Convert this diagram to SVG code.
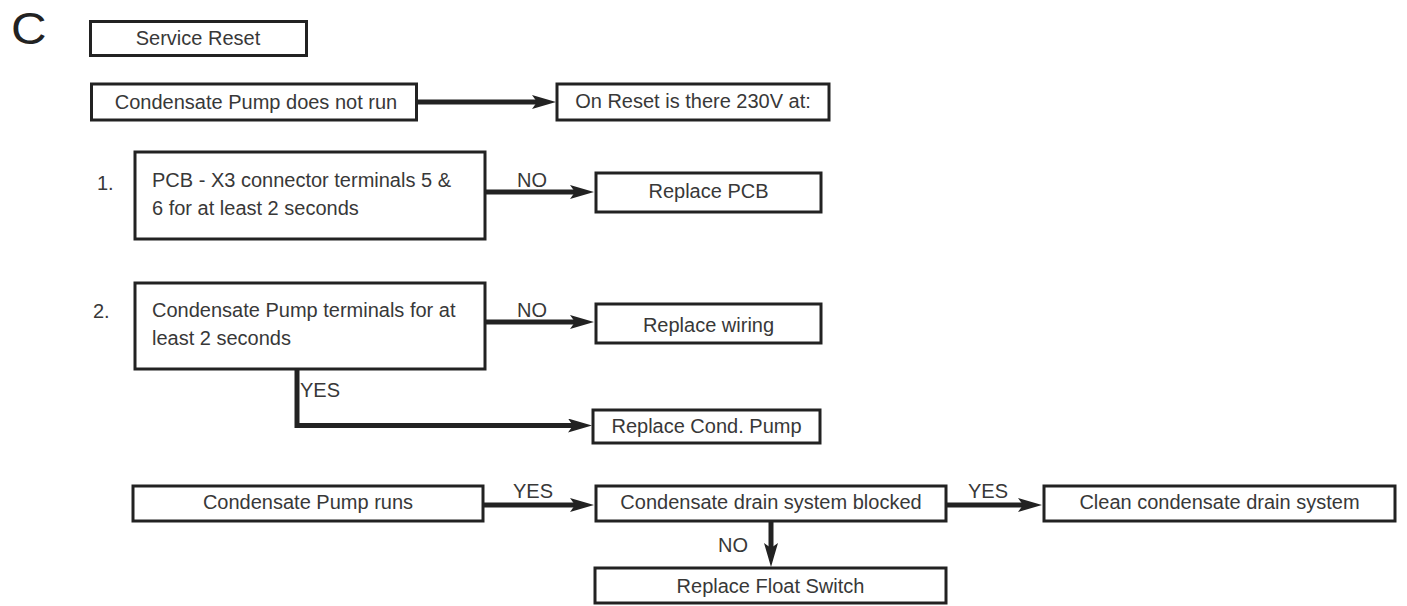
<svg xmlns="http://www.w3.org/2000/svg" width="1407" height="606" viewBox="0 0 1407 606">
<style>
  .box { fill: #fff; stroke: #222; stroke-width: 3; }
  .t { font-family: "Liberation Sans", Arial, sans-serif; font-size: 20px; fill: #383838; }
  .c { text-anchor: middle; }
  .con { fill: none; stroke: #222; stroke-width: 5; stroke-linejoin: miter; marker-end: url(#ah); }
</style>
<defs>
  <marker id="ah" viewBox="0 0 24 14" refX="10" refY="7" markerWidth="24" markerHeight="14" markerUnits="userSpaceOnUse" orient="auto">
    <path d="M0,0 L24,7 L0,14 L5,7 Z" fill="#222"/>
  </marker>
</defs>
<rect width="1407" height="606" fill="#fff"/>
<text transform="translate(11,44) scale(1.12,1)" font-family="Liberation Sans, Arial, sans-serif" font-size="44" fill="#222">C</text>

<g id="connectors">
  <path class="con" d="M416,102 H542"/>
  <path class="con" d="M486,192 H580"/>
  <path class="con" d="M486,322 H580"/>
  <path class="con" d="M297,370 V425.5 H578"/>
  <path class="con" d="M484,505 H580"/>
  <path class="con" d="M947,505 H1028"/>
  <path class="con" d="M771,522 V553"/>
  <text class="t" x="517" y="187">NO</text>
  <text class="t" x="517" y="317">NO</text>
  <text class="t" x="300" y="397">YES</text>
  <text class="t" x="513" y="498">YES</text>
  <text class="t" x="968" y="498">YES</text>
  <text class="t" x="718" y="552">NO</text>
</g>

<g id="service-reset">
  <rect class="box" x="90.5" y="21.5" width="216" height="34"/>
  <text class="t c" x="198" y="45">Service Reset</text>
</g>
<g id="not-run">
  <rect class="box" x="91.5" y="84" width="325" height="36"/>
  <text class="t c" x="256" y="109">Condensate Pump does not run</text>
</g>
<g id="on-reset">
  <rect class="box" x="557" y="84" width="272" height="36"/>
  <text class="t c" x="693" y="108">On Reset is there 230V at:</text>
</g>
<g id="check1">
  <text class="t" x="97" y="190">1.</text>
  <rect class="box" x="135" y="152" width="350" height="87"/>
  <text class="t" x="152" y="187">PCB - X3 connector terminals 5 &amp;</text>
  <text class="t" x="152" y="215">6 for at least 2 seconds</text>
</g>
<g id="replace-pcb">
  <rect class="box" x="596" y="173" width="225" height="39"/>
  <text class="t c" x="708.5" y="198">Replace PCB</text>
</g>
<g id="check2">
  <text class="t" x="93" y="318">2.</text>
  <rect class="box" x="135" y="283" width="350" height="86"/>
  <text class="t" x="152" y="317">Condensate Pump terminals for at</text>
  <text class="t" x="152" y="345">least 2 seconds</text>
</g>
<g id="replace-wiring">
  <rect class="box" x="596" y="304" width="225" height="39"/>
  <text class="t c" x="708.5" y="332">Replace wiring</text>
</g>
<g id="replace-pump">
  <rect class="box" x="593" y="410" width="227" height="33"/>
  <text class="t c" x="706.5" y="433">Replace Cond. Pump</text>
</g>
<g id="pump-runs">
  <rect class="box" x="133" y="486" width="350" height="35"/>
  <text class="t c" x="308" y="509">Condensate Pump runs</text>
</g>
<g id="drain-blocked">
  <rect class="box" x="596" y="486" width="350" height="35"/>
  <text class="t c" x="771" y="509">Condensate drain system blocked</text>
</g>
<g id="clean-drain">
  <rect class="box" x="1044" y="486" width="351" height="35"/>
  <text class="t c" x="1219.5" y="509">Clean condensate drain system</text>
</g>
<g id="float-switch">
  <rect class="box" x="595" y="568" width="351" height="35"/>
  <text class="t c" x="770.5" y="593">Replace Float Switch</text>
</g>
</svg>
